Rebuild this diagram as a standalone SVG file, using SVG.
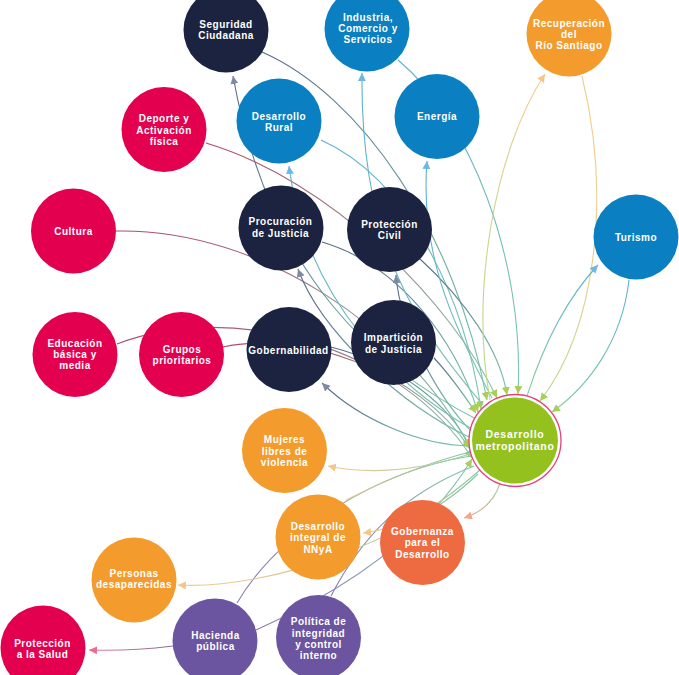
<svg xmlns="http://www.w3.org/2000/svg" width="679" height="675" viewBox="0 0 679 675">
<style>
.n text{font-family:"Liberation Sans",Arial,sans-serif;font-weight:700;font-size:10px;fill:#fff;text-anchor:middle;letter-spacing:0.5px}
#desarrollo-metropolitano text{font-size:10.5px;letter-spacing:0.7px}
.navy{fill:#1C2340}.blue{fill:#0A80C2}.mag{fill:#E3004F}.org{fill:#F39B2C}.ored{fill:#EE6B41}.pur{fill:#6B55A0}.grn{fill:#95C11F}
#links path{fill:none;stroke-width:1.1}
</style>
<defs>
<linearGradient id="tlNavy" x1="0" y1="0" x2="1" y2="1"><stop offset="0" stop-color="#56678D"/><stop offset="1" stop-color="#7CC6A8"/></linearGradient>
<linearGradient id="tlBlue" x1="0" y1="0" x2="1" y2="1"><stop offset="0" stop-color="#5AAFD9"/><stop offset="1" stop-color="#7CC6A8"/></linearGradient>
<linearGradient id="tlMag" x1="0" y1="0" x2="1" y2="1"><stop offset="0" stop-color="#B04A6C"/><stop offset="1" stop-color="#7CC6A8"/></linearGradient>
<linearGradient id="trBlue" x1="1" y1="0" x2="0" y2="1"><stop offset="0" stop-color="#5AAFD9"/><stop offset="1" stop-color="#8CCBA0"/></linearGradient>
<linearGradient id="trOrg" x1="1" y1="0" x2="0" y2="1"><stop offset="0" stop-color="#F6CB90"/><stop offset="1" stop-color="#B9D98A"/></linearGradient>
<linearGradient id="blOrg" x1="0" y1="1" x2="1" y2="0"><stop offset="0" stop-color="#F6C98C"/><stop offset="1" stop-color="#7CC6A8"/></linearGradient>
<linearGradient id="blPur" x1="0" y1="1" x2="1" y2="0"><stop offset="0" stop-color="#8A78B8"/><stop offset="1" stop-color="#7CC6A8"/></linearGradient>
<linearGradient id="hOrg" x1="0" y1="0" x2="1" y2="0"><stop offset="0" stop-color="#F6C98C"/><stop offset="1" stop-color="#9CCFA0"/></linearGradient>
<linearGradient id="hPink" x1="0" y1="0" x2="1" y2="0"><stop offset="0" stop-color="#E77DA0"/><stop offset="1" stop-color="#8A6A9C"/></linearGradient>
<linearGradient id="salm" x1="1" y1="0" x2="0" y2="1"><stop offset="0" stop-color="#9CCFA0"/><stop offset="1" stop-color="#F4A587"/></linearGradient>
<marker id="aG" markerUnits="userSpaceOnUse" markerWidth="9" markerHeight="9" refX="8" refY="4" orient="auto"><path d="M0,0 L8,4 L0,8 z" fill="#A9CF55"/></marker>
<marker id="aS" markerUnits="userSpaceOnUse" markerWidth="9" markerHeight="9" refX="8" refY="4" orient="auto"><path d="M0,0 L8,4 L0,8 z" fill="#7E89A3"/></marker>
<marker id="aB" markerUnits="userSpaceOnUse" markerWidth="9" markerHeight="9" refX="8" refY="4" orient="auto"><path d="M0,0 L8,4 L0,8 z" fill="#6DB8E0"/></marker>
<marker id="aO" markerUnits="userSpaceOnUse" markerWidth="9" markerHeight="9" refX="8" refY="4" orient="auto"><path d="M0,0 L8,4 L0,8 z" fill="#F8C487"/></marker>
<marker id="aR" markerUnits="userSpaceOnUse" markerWidth="9" markerHeight="9" refX="8" refY="4" orient="auto"><path d="M0,0 L8,4 L0,8 z" fill="#F4A587"/></marker>
<marker id="aP" markerUnits="userSpaceOnUse" markerWidth="9" markerHeight="9" refX="8" refY="4" orient="auto"><path d="M0,0 L8,4 L0,8 z" fill="#EE6A93"/></marker>
</defs>
<rect width="679" height="675" fill="#fff"/>
<g id="links">
<path d="M262,52 C360,95 455,230 487,400" stroke="url(#tlNavy)" marker-end="url(#aG)"/>
<path d="M398,60 C470,120 525,260 518,394" stroke="url(#tlBlue)" marker-end="url(#aG)"/>
<path d="M321,140 C410,180 465,300 481,409" stroke="url(#tlBlue)" marker-end="url(#aG)"/>
<path d="M206,143 C330,180 450,300 497,398" stroke="url(#tlMag)" marker-end="url(#aG)"/>
<path d="M116,231 C260,228 410,330 470,448" stroke="url(#tlMag)" marker-end="url(#aG)"/>
<path d="M322,242 C400,265 455,340 478,412" stroke="url(#tlNavy)" marker-end="url(#aG)"/>
<path d="M419,258 C465,300 500,350 507,395" stroke="url(#tlNavy)" marker-end="url(#aG)"/>
<path d="M434,358 C450,375 462,392 476,413" stroke="url(#tlNavy)" marker-end="url(#aG)"/>
<path d="M331,347 C400,365 450,405 470,447" stroke="url(#tlNavy)" marker-end="url(#aG)"/>
<path d="M223,347 C300,330 420,370 470,449" stroke="url(#tlMag)" marker-end="url(#aG)"/>
<path d="M117,344 C230,300 400,345 472,458" stroke="url(#tlMag)" marker-end="url(#aG)"/>
<path d="M582,76 C612,200 595,330 540,401" stroke="url(#trOrg)" marker-end="url(#aG)"/>
<path d="M629,280 C622,340 590,385 552,412" stroke="url(#trBlue)" marker-end="url(#aG)"/>
<path d="M256,630 C330,597 420,545 472,459" stroke="url(#blPur)" marker-end="url(#aG)"/>
<path d="M237,603 C280,530 380,470 471,456" stroke="url(#blPur)"/>
<path d="M331,596 C360,540 400,495 474,466" stroke="url(#blPur)"/>
<path d="M346,500 C390,478 430,462 470,452" stroke="url(#blOrg)"/>
<path d="M478,420 C380,370 270,280 233,76" stroke="url(#tlNavy)" marker-end="url(#aS)"/>
<path d="M474,430 C400,390 305,300 289,166" stroke="url(#tlBlue)" marker-end="url(#aB)"/>
<path d="M483,405 C420,330 360,250 362,73" stroke="url(#tlBlue)" marker-end="url(#aB)"/>
<path d="M492,398 C450,320 420,250 427,161" stroke="url(#tlBlue)" marker-end="url(#aB)"/>
<path d="M472,432 C440,400 400,330 396,275" stroke="url(#tlNavy)" marker-end="url(#aS)"/>
<path d="M471,438 C400,405 320,330 298,269" stroke="url(#tlNavy)" marker-end="url(#aS)"/>
<path d="M470,446 C420,445 360,420 322,383" stroke="url(#tlNavy)" marker-end="url(#aS)"/>
<path d="M527,396 C545,340 570,295 598,265" stroke="url(#trBlue)" marker-end="url(#aB)"/>
<path d="M490,400 C470,290 495,150 545,74" stroke="url(#trOrg)" marker-end="url(#aO)"/>
<path d="M470,454 C420,470 370,475 328,466" stroke="url(#hOrg)" marker-end="url(#aO)"/>
<path d="M500,483 C495,500 482,512 464,518" stroke="url(#salm)" marker-end="url(#aR)"/>
<path d="M480,470 C440,505 405,528 363,533" stroke="url(#blOrg)" marker-end="url(#aO)"/>
<path d="M478,474 C410,540 270,590 178,585" stroke="url(#blOrg)" marker-end="url(#aO)"/>
<path d="M173,646 C140,650 115,651 89,650" stroke="url(#hPink)" marker-end="url(#aP)"/>
</g>
<g id="seguridad" class="n"><circle class="navy" cx="226" cy="30" r="42.5"/><text x="226" y="27.8">Seguridad<tspan x="226" dy="11.3">Ciudadana</tspan></text></g>
<g id="industria" class="n"><circle class="blue" cx="367" cy="29" r="42.5"/><text x="368" y="20.5">Industria,<tspan x="368" dy="11.3">Comercio y</tspan><tspan x="368" dy="11.3">Servicios</tspan></text></g>
<g id="recuperacion" class="n"><circle class="org" cx="569" cy="34" r="42.5"/><text x="569" y="26.6">Recuperación<tspan x="569" dy="11.3">del</tspan><tspan x="569" dy="11.3">Río Santiago</tspan></text></g>
<g id="energia" class="n"><circle class="blue" cx="437" cy="116.5" r="42.5"/><text x="437" y="120.4">Energía</text></g>
<g id="turismo" class="n"><circle class="blue" cx="636" cy="237" r="42.5"/><text x="636" y="241.4">Turismo</text></g>
<g id="proteccion-civil" class="n"><circle class="navy" cx="389.5" cy="229.5" r="42.5"/><text x="389.5" y="227.9">Protección<tspan x="389.5" dy="11.3">Civil</tspan></text></g>
<g id="desarrollo-rural" class="n"><circle class="blue" cx="279" cy="121" r="42.5"/><text x="279" y="119.6">Desarrollo<tspan x="279" dy="11.3">Rural</tspan></text></g>
<g id="deporte" class="n"><circle class="mag" cx="164" cy="129.5" r="42.5"/><text x="164" y="122.2">Deporte y<tspan x="164" dy="11.3">Activación</tspan><tspan x="164" dy="11.3">física</tspan></text></g>
<g id="cultura" class="n"><circle class="mag" cx="73.5" cy="231" r="42.5"/><text x="73.5" y="235">Cultura</text></g>
<g id="procuracion" class="n"><circle class="navy" cx="281" cy="228" r="42.5"/><text x="280.5" y="225.2">Procuración<tspan x="280.5" dy="11.6">de Justicia</tspan></text></g>
<g id="educacion" class="n"><circle class="mag" cx="75" cy="354.5" r="42.5"/><text x="75" y="346.6">Educación<tspan x="75" dy="11.3">básica y</tspan><tspan x="75" dy="11.3">media</tspan></text></g>
<g id="grupos" class="n"><circle class="mag" cx="181.5" cy="354.5" r="42.5"/><text x="182" y="352.8">Grupos<tspan x="182" dy="11.3">prioritarios</tspan></text></g>
<g id="gobernabilidad" class="n"><circle class="navy" cx="289" cy="349.5" r="42.5"/><text x="288.5" y="353.7">Gobernabilidad</text></g>
<g id="imparticion" class="n"><circle class="navy" cx="393.5" cy="342.5" r="42.5"/><text x="393.5" y="341.4">Impartición<tspan x="393.5" dy="11.3">de Justicia</tspan></text></g>
<g id="mujeres" class="n"><circle class="org" cx="284.5" cy="450.5" r="42.5"/><text x="284.5" y="443.3">Mujeres<tspan x="284.5" dy="11.3">libres de</tspan><tspan x="284.5" dy="11.3">violencia</tspan></text></g>
<g id="desarrollo-metropolitano" class="n"><circle cx="515" cy="440.5" r="46" fill="#fff" stroke="#E5417B" stroke-width="1.3"/><circle class="grn" cx="515" cy="440.5" r="43"/><text x="515" y="438.2">Desarrollo<tspan x="515" dy="11.8">metropolitano</tspan></text></g>
<g id="nnya" class="n"><circle class="org" cx="318" cy="537" r="42.5"/><text x="318" y="530.1">Desarrollo<tspan x="318" dy="11.3">integral de</tspan><tspan x="318" dy="11.3">NNyA</tspan></text></g>
<g id="gobernanza" class="n"><circle class="ored" cx="422.5" cy="542.5" r="42.5"/><text x="422.5" y="535">Gobernanza<tspan x="422.5" dy="11.3">para el</tspan><tspan x="422.5" dy="11.3">Desarrollo</tspan></text></g>
<g id="personas" class="n"><circle class="org" cx="134" cy="580" r="42.5"/><text x="134" y="576.8">Personas<tspan x="134" dy="11.3">desaparecidas</tspan></text></g>
<g id="hacienda" class="n"><circle class="pur" cx="215" cy="641" r="42.5"/><text x="215.5" y="639">Hacienda<tspan x="215.5" dy="11.3">pública</tspan></text></g>
<g id="politica" class="n"><circle class="pur" cx="318.5" cy="637.5" r="42.5"/><text x="318.5" y="625.2">Política de<tspan x="318.5" dy="11.3">integridad</tspan><tspan x="318.5" dy="11.3">y control</tspan><tspan x="318.5" dy="11.3">interno</tspan></text></g>
<g id="salud" class="n"><circle class="mag" cx="43" cy="648" r="42.5"/><text x="42.5" y="646.8">Protección<tspan x="42.5" dy="11.3">a la Salud</tspan></text></g>
</svg>
